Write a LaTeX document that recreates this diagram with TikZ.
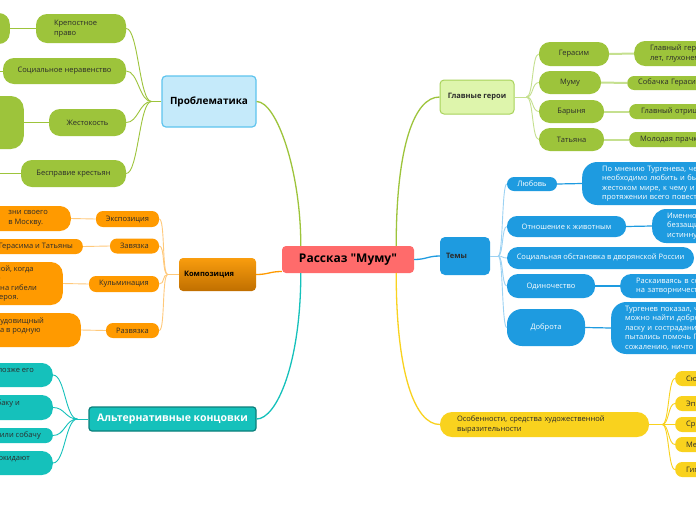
\documentclass[tikz,border=0pt]{standalone}
\usepackage{fontspec}
\setmainfont{Open Sans}

\definecolor{mmgreen}{HTML}{9DC43B}
\definecolor{mmgreenln}{HTML}{C5E08F}
\definecolor{mmlime}{HTML}{DEF5AC}
\definecolor{mmlimeedge}{HTML}{A8D25A}
\definecolor{mmblue}{HTML}{1E9BE0}
\definecolor{mmblueln}{HTML}{9CD2F3}
\definecolor{mmsky}{HTML}{C5EAFA}
\definecolor{mmskyedge}{HTML}{5EC4EE}
\definecolor{mmorange}{HTML}{FF9A00}
\definecolor{mmorangeln}{HTML}{FFC97A}
\definecolor{mmorangetop}{HTML}{F99D0E}
\definecolor{mmorangebot}{HTML}{C06F00}
\definecolor{mmteal}{HTML}{15C1BB}
\definecolor{mmtealedge}{HTML}{0C7F7B}
\definecolor{mmyellow}{HTML}{F9D21E}
\definecolor{mmred}{HTML}{FF6B6B}
\definecolor{mmtext}{HTML}{2B2B2B}

\begin{document}
\begin{tikzpicture}[x=1pt, y=-1pt]
    \tikzstyle{every node}=[font=\fontsize{7.5}{9.5}\selectfont, text=mmtext, inner ysep=0pt, inner xsep=4pt]
    \tikzstyle{greenbox}=[fill=mmgreen, rounded corners=11pt]
    \tikzstyle{orangebox}=[fill=mmorange, rounded corners=7pt]
    \tikzstyle{tealbox}=[fill=mmteal, rounded corners=11pt]
    \tikzstyle{bluebox}=[fill=mmblue, rounded corners=11pt, text=white]
    \tikzstyle{yellowbox}=[fill=mmyellow, rounded corners=7pt]
    \tikzstyle{branch}=[line width=1.3pt]
    \tikzstyle{twig}=[line width=0.9pt]

    \useasboundingbox (0,0) rectangle (696,520);
    \fill[white] (0,0) rectangle (696,520);
    \clip (0,0) rectangle (696,520);

    % Root
    \node[fill=mmred, rounded corners=4pt, minimum width=132, minimum height=27,
      font=\fontsize{12}{14}\selectfont\bfseries, text=black] (root) at (348,259.5) {Рассказ \textquotedbl Муму\textquotedbl};

    % Problems
    \node[fill=mmsky, draw=mmskyedge, line width=1.2pt, rounded corners=4pt, minimum width=94,
      minimum height=51, font=\fontsize{10}{12}\selectfont\bfseries, text=black] (prob) at (209,101.5) {Проблематика};
    \node[greenbox, minimum height=29, text width=54, inner xsep=18, align=left] (krep) at (81,28.5) {Крепостное\\право};
    \node[greenbox, minimum width=123, minimum height=26] (soc) at (64.5,71) {Социальное неравенство};
    \node[greenbox, minimum width=77, minimum height=27] (zhest) at (87.5,122.5) {Жестокость};
    \node[greenbox, minimum width=105, minimum height=27] (bespr) at (73.5,173.5) {Бесправие крестьян};
    \node[greenbox, anchor=east, minimum width=40, minimum height=31] (krepleaf) at (10,28.5) {};
    \node[greenbox, rounded corners=13pt, anchor=east, minimum width=60, minimum height=53] (zhestleaf) at (24,122.5) {};
    \coordinate (socleaf) at (-5,71);
    \coordinate (besprleaf) at (-5,173.5);

    \draw[mmgreen, twig] (prob.west) -- ++(-10,0) coordinate (probhub);
    \draw[mmgreen, twig] (probhub) .. controls +(-12,0) and +(12,0) .. (krep.east);
    \draw[mmgreen, twig] (probhub) .. controls +(-12,0) and +(12,0) .. (soc.east);
    \draw[mmgreen, twig] (probhub) .. controls +(-12,0) and +(12,0) .. (zhest.east);
    \draw[mmgreen, twig] (probhub) .. controls +(-12,0) and +(12,0) .. (bespr.east);
    \draw[mmgreen, twig] (krep.west) -- (krepleaf.east);
    \draw[mmgreen, twig] (soc.west) -- (socleaf);
    \draw[mmgreen, twig] (zhest.west) -- (zhestleaf.east);
    \draw[mmgreen, twig] (bespr.west) -- (besprleaf);

    % Composition
    \node[top color=mmorangetop, bottom color=mmorangebot, rounded corners=4pt, minimum height=33,
      text width=67, inner xsep=5, align=left, font=\fontsize{7.5}{9}\selectfont\bfseries, text=black] (komp) at (217.5,274.5) {Композиция};
    \node[orangebox, minimum width=63, minimum height=16] (expo) at (127.5,219) {Экспозиция};
    \node[orangebox, minimum width=49, minimum height=15] (zav) at (134.5,246) {Завязка};
    \node[orangebox, minimum width=70, minimum height=16] (kulm) at (124,284) {Кульминация};
    \node[orangebox, minimum width=53, minimum height=15] (razv) at (132.5,330.5) {Развязка};
    \node[orangebox, rounded corners=11pt, anchor=east, inner xsep=23, minimum height=25, align=left] (expoleaf) at (71,218.5) {зни своего\\в Москву.};
    \node[orangebox, anchor=east, inner xsep=10, minimum height=15] (zavleaf) at (83,246.5) {Герасима и Татьяны};
    \node[orangebox, rounded corners=12pt, anchor=east, inner xsep=26, minimum height=43, align=left] (kulmleaf) at (63,283.5) {ной, когда\\о\\ена гибели\\героя.};
    \node[orangebox, rounded corners=12pt, anchor=east, inner xsep=37, minimum height=34, align=left] (razvleaf) at (81,330) {чудовищный\\да в родную\\~};

    \draw[mmorangeln, twig] (komp.west) -- ++(-11,0) coordinate (komphub);
    \draw[mmorangeln, twig] (komphub) .. controls +(-6,0) and +(6,0) .. (expo.east);
    \draw[mmorangeln, twig] (komphub) .. controls +(-6,0) and +(6,0) .. (zav.east);
    \draw[mmorangeln, twig] (komphub) .. controls +(-6,0) and +(6,0) .. (kulm.east);
    \draw[mmorangeln, twig] (komphub) .. controls +(-6,0) and +(6,0) .. (razv.east);
    \draw[mmorangeln, twig] (expo.west) -- (expoleaf.east);
    \draw[mmorangeln, twig] (zav.west) -- (zavleaf.east);
    \draw[mmorangeln, twig] (kulm.west) -- (kulmleaf.east);
    \draw[mmorangeln, twig] (razv.west) -- (razvleaf.east);

    % Alternative endings
    \node[fill=mmteal, draw=mmtealedge, line width=1.2pt, rounded corners=3pt, minimum width=167, minimum height=24,
      font=\fontsize{10.5}{12}\selectfont\bfseries, text=white] (alt) at (172.5,419) {Альтернативные концовки};
    \node[tealbox, anchor=east, inner xsep=19, minimum height=24, align=left] (alt1) at (53,375) {позже его\\~};
    \node[tealbox, anchor=east, inner xsep=33, minimum height=25, align=left] (alt2) at (53,407.5) {баку и\\~};
    \node[tealbox, rounded corners=7pt, anchor=east, inner xsep=12, minimum height=15] (alt3) at (53,435.5) {или собачу};
    \node[tealbox, anchor=east, inner xsep=23, minimum height=24, align=left] (alt4) at (53,463) {окидают\\~};

    \draw[mmteal, twig] (alt.west) -- ++(-11,0) coordinate (althub);
    \draw[mmteal, twig] (althub) .. controls +(-12,0) and +(12,0) .. (alt1.east);
    \draw[mmteal, twig] (althub) .. controls +(-12,0) and +(12,0) .. (alt2.east);
    \draw[mmteal, twig] (althub) .. controls +(-12,0) and +(12,0) .. (alt3.east);
    \draw[mmteal, twig] (althub) .. controls +(-12,0) and +(12,0) .. (alt4.east);

    % Main characters
    \node[fill=mmlime, draw=mmlimeedge, line width=1pt, rounded corners=4pt, minimum width=74, minimum height=34,
      font=\fontsize{7.5}{9}\selectfont\bfseries, text=mmtext] (hero) at (477,97) {Главные герои};
    \node[greenbox, minimum width=70, minimum height=24] (geras) at (574,54) {Герасим};
    \node[greenbox, minimum width=62, minimum height=23] (mumu) at (570,82.5) {Муму};
    \node[greenbox, minimum width=65, minimum height=23] (baryn) at (571.5,111.5) {Барыня};
    \node[greenbox, minimum width=65, minimum height=23] (tatya) at (571.5,139.5) {Татьяна};
    \node[greenbox, anchor=west, inner xsep=16, text width=120, minimum height=25, align=left] (gerasleaf) at (634,53.5) {Главный герой\\лет, глухонем};
    \node[greenbox, rounded corners=7pt, anchor=west, inner xsep=11, text width=120, minimum height=14] (mumuleaf) at (627,83) {Собачка Герасима};
    \node[greenbox, rounded corners=7pt, anchor=west, inner xsep=12, text width=120, minimum height=15] (barynleaf) at (629,111.5) {Главный отрица};
    \node[greenbox, rounded corners=7pt, anchor=west, inner xsep=11, text width=120, minimum height=15] (tatyaleaf) at (629,139.5) {Молодая прачка};

    \draw[mmgreenln, twig] (hero.east) -- ++(12,0) coordinate (herohub);
    \draw[mmgreenln, twig] (herohub) .. controls +(7,0) and +(-7,0) .. (geras.west);
    \draw[mmgreenln, twig] (herohub) .. controls +(7,0) and +(-7,0) .. (mumu.west);
    \draw[mmgreenln, twig] (herohub) .. controls +(7,0) and +(-7,0) .. (baryn.west);
    \draw[mmgreenln, twig] (herohub) .. controls +(7,0) and +(-7,0) .. (tatya.west);
    \draw[mmgreenln, line width=2pt] (geras.east) -- (gerasleaf.west);
    \draw[mmgreenln, line width=2pt] (mumu.east) -- (mumuleaf.west);
    \draw[mmgreenln, line width=2pt] (baryn.east) -- (barynleaf.west);
    \draw[mmgreenln, line width=2pt] (tatya.east) -- (tatyaleaf.west);

    % Themes
    \node[fill=mmblue, rounded corners=5pt, minimum height=38, text width=38, inner xsep=6, align=left,
      font=\fontsize{7.5}{9}\selectfont\bfseries, text=mmtext] (temy) at (465,256) {Темы};
    \node[bluebox, rounded corners=7pt, minimum width=50, minimum height=14] (lyub) at (532,184) {Любовь};
    \node[bluebox, rounded corners=10pt, minimum width=119, minimum height=21] (otnosh) at (566.5,226.5) {Отношение к животным};
    \node[bluebox, minimum width=187, minimum height=22] (socob) at (600.5,258) {Социальная обстановка в дворянской России};
    \node[bluebox, minimum width=88, minimum height=24] (odin) at (551,286) {Одиночество};
    \node[bluebox, rounded corners=15pt, minimum width=78, minimum height=37] (dobr) at (546,327.5) {Доброта};
    \node[bluebox, rounded corners=15pt, anchor=west, inner xsep=20, text width=150, minimum height=43, align=left] (lyubleaf) at (582,183.5)
      {По мнению Тургенева, чел\\необходимо любить и быть\\жестоком мире, к чему и ст\\протяжении всего повеств};
    \node[bluebox, rounded corners=14pt, anchor=west, inner xsep=15, text width=100, minimum height=34, align=left] (otnoshleaf) at (652,226)
      {Именно\\беззащи\\истинну};
    \node[bluebox, anchor=west, inner xsep=16, text width=120, minimum height=24, align=left] (odinleaf) at (620,286)
      {Раскаиваясь в сод\\на затворничеств};
    \node[bluebox, rounded corners=15pt, anchor=west, inner xsep=14, text width=120, minimum height=52, align=left] (dobrleaf) at (611,328)
      {Тургенев показал, чт\\можно найти доброт\\ласку и сострадание\\пытались помочь Гер\\сожалению, ничто н};

    \draw[mmblueln, twig] (temy.east) -- ++(8,0) coordinate (temyhub);
    \draw[mmblueln, twig] (temyhub) .. controls +(5,0) and +(-5,0) .. (lyub.west);
    \draw[mmblueln, twig] (temyhub) .. controls +(5,0) and +(-5,0) .. (otnosh.west);
    \draw[mmblueln, twig] (temyhub) .. controls +(5,0) and +(-5,0) .. (socob.west);
    \draw[mmblueln, twig] (temyhub) .. controls +(5,0) and +(-5,0) .. (odin.west);
    \draw[mmblueln, twig] (temyhub) .. controls +(5,0) and +(-5,0) .. (dobr.west);
    \draw[mmblue, line width=1.2pt] (lyub.east) -- (lyubleaf.west);
    \draw[mmblue, line width=1.2pt] (otnosh.east) -- (otnoshleaf.west);
    \draw[mmblue, line width=1.2pt] (odin.east) -- (odinleaf.west);
    \draw[mmblue, line width=1.2pt] (dobr.east) -- (dobrleaf.west);

    % Artistic means
    \node[yellowbox, rounded corners=12pt, minimum height=25, text width=175, inner xsep=17, align=left] (osob) at (544.5,424.5)
      {Особенности, средства художественной\\выразительности};
    \node[yellowbox, anchor=west, inner xsep=11, text width=40, minimum height=15] (sjuz) at (675,378.5) {Сю};
    \node[yellowbox, anchor=west, inner xsep=11, text width=40, minimum height=15] (epit) at (675,403.5) {Эп};
    \node[yellowbox, anchor=west, inner xsep=11, text width=40, minimum height=15] (sravn) at (675,424.5) {Ср};
    \node[yellowbox, anchor=west, inner xsep=11, text width=40, minimum height=15] (meta) at (675,444.5) {Ме};
    \node[yellowbox, anchor=west, inner xsep=11, text width=40, minimum height=15] (gipe) at (675,469.5) {Гип};

    \draw[mmyellow, twig] (osob.east) -- ++(13,0) coordinate (osobhub);
    \draw[mmyellow, twig] (osobhub) .. controls +(7,0) and +(-7,0) .. (sjuz.west);
    \draw[mmyellow, twig] (osobhub) .. controls +(7,0) and +(-7,0) .. (epit.west);
    \draw[mmyellow, twig] (osobhub) .. controls +(7,0) and +(-7,0) .. (sravn.west);
    \draw[mmyellow, twig] (osobhub) .. controls +(7,0) and +(-7,0) .. (meta.west);
    \draw[mmyellow, twig] (osobhub) .. controls +(7,0) and +(-7,0) .. (gipe.west);

    % Main branches
    \draw[mmgreen, branch] ([xshift=19pt]root.north west) .. controls +(0,-75) and +(20,0) .. (prob.east);
    \draw[mmgreen, branch] ([xshift=-18pt]root.north east) .. controls +(0,-100) and +(-25,0) .. (hero.west);
    \draw[mmblue, branch] (root.east) .. controls +(12,0) and +(-12,0) .. (temy.west);
    \draw[mmyellow, branch] ([xshift=-18pt]root.south east) .. controls +(0,100) and +(-25,0) .. (osob.west);
    \draw[mmorange, branch] ([yshift=-12pt]root.west) .. controls +(-12,0) and +(12,0) .. (komp.east);
    \draw[mmteal, branch] ([xshift=19pt]root.south west) .. controls +(0,90) and +(20,0) .. (alt.east);
\end{tikzpicture}
\end{document}
